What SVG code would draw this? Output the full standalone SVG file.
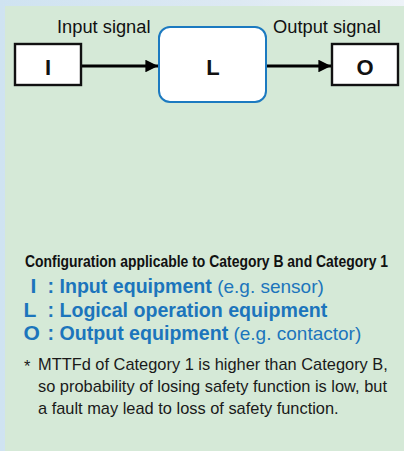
<svg xmlns="http://www.w3.org/2000/svg" width="404" height="451" viewBox="0 0 404 451">
<defs>
<linearGradient id="bg" x1="0" y1="0" x2="1" y2="0">
<stop offset="0" stop-color="#cfe3f1"/>
<stop offset="0.6" stop-color="#dde9f3"/>
<stop offset="1" stop-color="#eef3f8"/>
</linearGradient>
<marker id="arr" viewBox="0 0 10 10" refX="10" refY="5" markerWidth="4.2" markerHeight="4.2" orient="auto" markerUnits="strokeWidth">
<path d="M0,0 L10,5 L0,10 z" fill="#000"/>
</marker>
<style>
.box{fill:#fff;stroke:#111;stroke-width:2.4}
.lbox{fill:#fff;stroke:#1c7ac0;stroke-width:2}
.lbl{font-family:"Liberation Sans",Arial,sans-serif;font-size:18.3px;fill:#111}
.big{font-family:"Liberation Sans",Arial,sans-serif;font-size:22px;font-weight:bold;fill:#111;text-anchor:middle}
.conn{stroke:#000;stroke-width:3;fill:none}
.hdr{font-family:"Liberation Sans",Arial,sans-serif;font-size:16.5px;font-weight:bold;fill:#111}
.leg{font-family:"Liberation Sans",Arial,sans-serif;font-size:19px;fill:#1c75bc}
.legb{font-weight:bold;font-size:19.6px}
.legk{font-family:"Liberation Sans",Arial,sans-serif;font-size:21px;font-weight:bold;fill:#1c75bc}
.note{font-family:"Liberation Sans",Arial,sans-serif;font-size:16.4px;fill:#1a1a1a}
</style>
</defs>
<rect x="0" y="0" width="404" height="451" fill="url(#bg)"/>
<rect x="5" y="6" width="410" height="460" fill="#d5e9d7"/>
<text class="lbl" x="57" y="33">Input signal</text>
<text class="lbl" x="273" y="33">Output signal</text>
<g id="connectors">
<line class="conn" x1="81" y1="66" x2="158" y2="66" marker-end="url(#arr)"/>
<line class="conn" x1="266" y1="66" x2="331" y2="66" marker-end="url(#arr)"/>
</g>
<g id="node-I">
<rect class="box" x="15" y="44" width="66" height="41"/>
<text class="big" x="48" y="75">I</text>
</g>
<g id="node-L">
<rect class="lbox" x="159" y="27" width="107" height="75" rx="11" ry="11"/>
<text class="big" x="213" y="75">L</text>
</g>
<g id="node-O">
<rect class="box" x="332" y="44" width="66" height="41"/>
<text class="big" x="365" y="75">O</text>
</g>
<text class="hdr" transform="translate(25,267) scale(0.82,1)" x="0" y="0" textLength="442.7" lengthAdjust="spacingAndGlyphs">Configuration applicable to Category B and Category 1</text>
<text class="legk" x="30.5" y="293">I</text>
<text class="leg" x="47.5" y="293"><tspan class="legb">: Input equipment</tspan> (e.g. sensor)</text>
<text class="legk" x="23.5" y="317">L</text>
<text class="leg" x="47.5" y="317"><tspan class="legb">: Logical operation equipment</tspan></text>
<text class="legk" x="23.5" y="340">O</text>
<text class="leg" x="47.5" y="340"><tspan class="legb">: Output equipment</tspan> (e.g. contactor)</text>
<text class="note" x="24" y="371.5" font-size="11" fill="#444">*</text>
<text class="note" x="38" y="370">MTTFd of Category 1 is higher than Category B,</text>
<text class="note" x="38" y="392">so probability of losing safety function is low, but</text>
<text class="note" x="38" y="414">a fault may lead to loss of safety function.</text>
</svg>
